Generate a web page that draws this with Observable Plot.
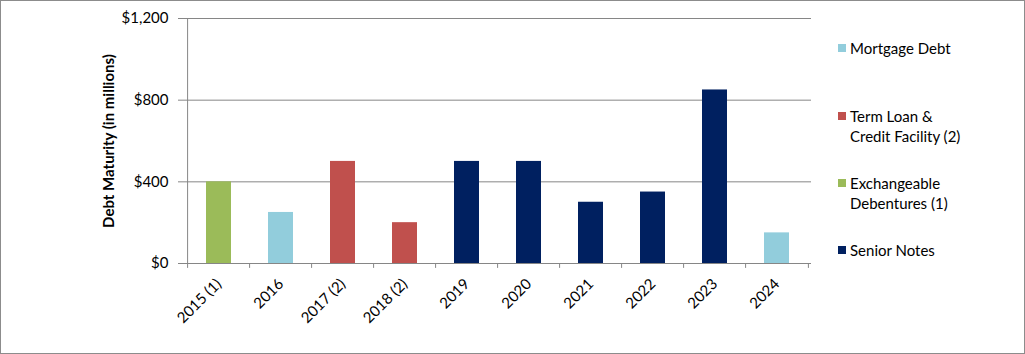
<!DOCTYPE html>
<html>
<head>
<meta charset="utf-8">
<script src="https://cdn.jsdelivr.net/npm/d3@7"></script>
<script src="https://cdn.jsdelivr.net/npm/@observablehq/plot@0.6"></script>
<style>
  html, body { margin: 0; padding: 0; background: #fff; }
  #wrap { position: relative; width: 1025px; height: 354px; font-family: Lato, "Open Sans", sans-serif; }
  #border { position: absolute; left: 0; top: 0; width: 1025px; height: 354px; box-sizing: border-box; border: 1px solid #8c8c8c; pointer-events: none; }
  #legend { position: absolute; left: 838px; top: 0; font-size: 15px; color: #000; }
  .item { position: absolute; left: 0; white-space: nowrap; line-height: 20px; }
  .sw { position: absolute; left: 0; top: 6px; width: 8px; height: 8px; }
  .lbl { position: absolute; left: 12px; top: 0; }
</style>
</head>
<body>
<div id="wrap"><div id="chart"></div><div id="legend"></div><div id="border"></div></div>
<script>
const categories = ["2015 (1)", "2016", "2017 (2)", "2018 (2)", "2019", "2020", "2021", "2022", "2023", "2024"];
const values = [400, 250, 500, 200, 500, 500, 300, 350, 850, 150];
const debtTypes = ["Exchangeable Debentures (1)", "Mortgage Debt", "Term Loan & Credit Facility (2)", "Term Loan & Credit Facility (2)", "Senior Notes", "Senior Notes", "Senior Notes", "Senior Notes", "Senior Notes", "Mortgage Debt"];
const seriesNames = ["Mortgage Debt", "Term Loan & Credit Facility (2)", "Exchangeable Debentures (1)", "Senior Notes"];
const seriesLines = [["Mortgage Debt"], ["Term Loan &", "Credit Facility (2)"], ["Exchangeable", "Debentures (1)"], ["Senior Notes"]];
const seriesColors = ["#92CDDC", "#C0504D", "#9BBB59", "#002060"];
const yTicks = [0, 400, 800, 1200];
const yLabel = "Debt Maturity (in millions)";

const data = categories.map((c, i) => ({cat: c, value: values[i], type: debtTypes[i]}));

const W = 1025, H = 354, mL = 183, mR = 214, mT = 18, mB = 91;
const step = (W - mL - mR) / categories.length;
const gray = "#868686";

const chart = Plot.plot({
  width: W, height: H,
  marginLeft: mL, marginRight: mR, marginTop: mT, marginBottom: mB,
  style: {fontFamily: "Lato, 'Open Sans', sans-serif", fontSize: "15px", background: "transparent", color: "#000"},
  x: {domain: categories, paddingInner: 0.6, paddingOuter: 0.3},
  y: {domain: [0, 1200]},
  color: {domain: seriesNames, range: seriesColors},
  marks: [
    Plot.ruleY(yTicks.filter(d => d > 0), {stroke: gray, strokeOpacity: 1}),
    Plot.barY(data, {x: "cat", y: "value", fill: "type"}),
    Plot.ruleY([0], {stroke: gray}),
    Plot.ruleX([0], {x: () => categories[0], dx: -step / 2, y1: 0, y2: 1200, stroke: gray}),
    Plot.ruleX(categories, {x: d => d, dx: -step / 2, y1: 0, y2: -24, stroke: gray}),
    Plot.ruleX([categories[categories.length - 1]], {x: d => d, dx: step / 2, y1: 0, y2: -24, stroke: gray}),
    Plot.axisY({ticks: yTicks, tickFormat: d => "$" + d3.format(",")(d), tickSize: 5, tickPadding: 10, stroke: gray, fill: "#000", label: null}),
    Plot.axisX({tickRotate: -45, tickSize: 0, tickPadding: 18, fill: "#000", label: null}),
    Plot.text([yLabel], {text: d => d, frameAnchor: "left", textAnchor: "middle", rotate: -90, dx: -74, fontWeight: "bold", fontSize: 15, fill: "#000"})
  ]
});
document.getElementById("chart").appendChild(chart);

const legend = document.getElementById("legend");
const tops = [38, 106, 173, 240];
seriesNames.forEach((name, i) => {
  const item = document.createElement("div");
  item.className = "item";
  item.style.top = tops[i] + "px";
  const sw = document.createElement("div");
  sw.className = "sw";
  sw.style.background = seriesColors[i];
  const lbl = document.createElement("div");
  lbl.className = "lbl";
  lbl.innerHTML = seriesLines[i].map(s => s.replace(/&/g, "&amp;")).join("<br>");
  item.appendChild(sw);
  item.appendChild(lbl);
  legend.appendChild(item);
});
</script>
</body>
</html>
